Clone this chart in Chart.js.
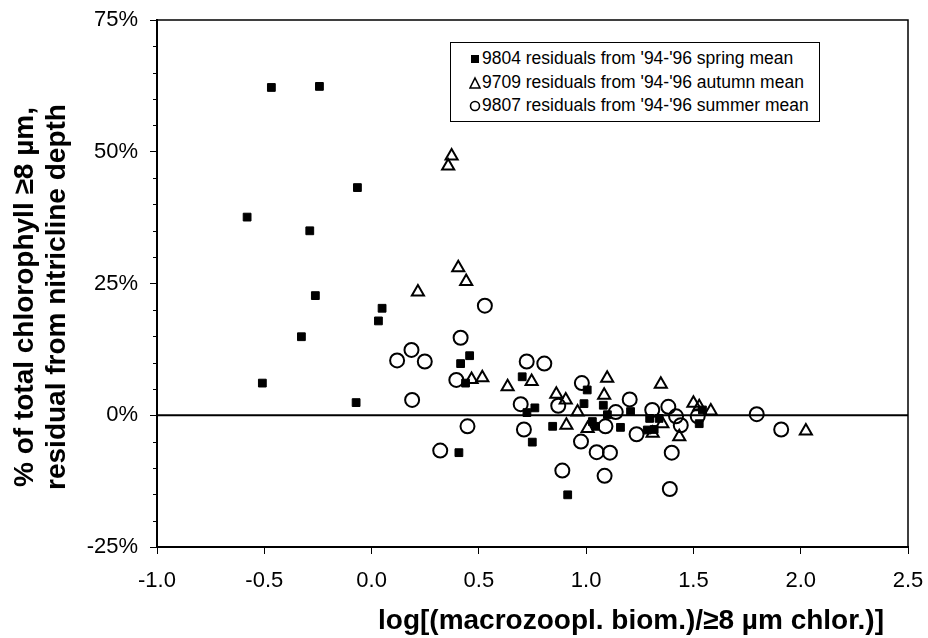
<!DOCTYPE html>
<html lang="en">
<head>
<meta charset="UTF-8">
<title>Residuals vs macrozooplankton biomass</title>
<script src="https://cdn.jsdelivr.net/npm/chart.js"></script>
<style>
    body {
        margin: 0;
        background: #ffffff;
        font-family: "Liberation Sans", Arial, sans-serif;
    }
    #wrap {
        position: relative;
        width: 928px;
        height: 638px;
    }
    #chart {
        position: absolute;
        left: 0;
        top: 0;
    }
    #legend {
        position: absolute;
        left: 450px;
        top: 42px;
        width: 370px;
        height: 80px;
        border: 1px solid #000;
        box-sizing: border-box;
        padding-top: 4px;
        font-size: 17.5px;
        color: #000;
        background: #fff;
    }
    .row {
        height: 23.5px;
        line-height: 23.5px;
        white-space: nowrap;
        padding-left: 18px;
    }
    .row svg {
        vertical-align: middle;
        margin-right: 1px;
    }
    #ytitle {
        position: absolute;
        left: 40px;
        top: 297px;
        width: 560px;
        transform: translate(-50%, -50%) rotate(-90deg);
        text-align: center;
        font-weight: bold;
        font-size: 28px;
        line-height: 32px;
        white-space: nowrap;
    }
    #xtitle {
        position: absolute;
        left: 631px;
        top: 620px;
        transform: translate(-50%, -50%);
        font-weight: bold;
        font-size: 28px;
        white-space: nowrap;
    }
</style>
</head>
<body>
<div id="wrap">
    <canvas id="chart" width="928" height="638"></canvas>
    <div id="ytitle">% of total chlorophyll ≥8 µm,<br>residual from nitricline depth</div>
    <div id="xtitle">log[(macrozoopl. biom.)/≥8 µm chlor.)]</div>
    <div id="legend">
        <div class="row"><svg width="12" height="14"><rect x="2" y="3" width="8" height="8" fill="#000"/></svg>9804 residuals from '94-'96 spring mean</div>
        <div class="row"><svg width="12" height="14"><polygon points="6,2 11,12 1,12" fill="none" stroke="#000" stroke-width="1.6"/></svg>9709 residuals from '94-'96 autumn mean</div>
        <div class="row"><svg width="12" height="14"><circle cx="6" cy="7" r="4.5" fill="none" stroke="#000" stroke-width="1.6"/></svg>9807 residuals from '94-'96 summer mean</div>
    </div>
</div>

<script>
    // 9804 residuals from '94-'96 spring mean (filled squares)
    const springX = [-0.467, -0.243, -0.066, -0.58, -0.288, -0.262, 0.049, 0.032, -0.327, -0.509,
        -0.072, 0.415, 0.457, 0.438, 0.407, 0.702, 0.761, 0.724, 0.749, 0.844,
        1.005, 0.99, 1.08, 1.029, 1.044, 1.099, 1.16, 1.207, 1.296, 1.285,
        1.317, 1.34, 1.527, 1.542, 0.914];
    const springY = [62.2, 62.4, 43.2, 37.6, 35.0, 22.7, 20.3, 17.9, 14.9, 6.1,
        2.4, 9.8, 11.3, 6.1, -7.1, 7.3, 1.4, 0.5, -5.1, -2.1,
        4.8, 2.2, 1.9, -1.2, -2.1, 0.1, -2.3, 0.7, -0.6, -2.8,
        -2.7, -0.6, -1.6, 1.0, -15.1];

    // 9709 residuals from '94-'96 autumn mean (open triangles)
    const autumnX = [0.373, 0.357, 0.404, 0.441, 0.216, 0.516, 0.466, 0.634, 0.746, 0.861,
        0.905, 0.96, 0.908, 1.007, 1.098, 1.084, 1.348, 1.31, 1.355, 1.434,
        1.5, 1.527, 1.581, 2.024];
    const autumnY = [49.2, 47.3, 28.0, 25.4, 23.4, 7.1, 6.8, 5.4, 6.4, 4.0,
        2.9, 0.6, -1.9, -2.5, 7.0, 3.8, 5.9, -3.4, -1.6, -4.1,
        2.3, 1.6, 0.8, -3.0];

    // 9807 residuals from '94-'96 summer mean (open circles)
    const summerX = [0.528, 0.415, 0.395, 0.447, 0.32, 0.186, 0.119, 0.248, 0.189, 0.723,
        0.805, 0.695, 0.71, 0.87, 0.98, 0.976, 0.889, 1.049, 1.111, 1.086,
        1.09, 1.138, 1.203, 1.235, 1.308, 1.383, 1.419, 1.441, 1.399, 1.39,
        1.52, 1.795, 1.909];
    const summerY = [20.8, 14.7, 6.7, -2.1, -6.7, 12.4, 10.4, 10.2, 2.9, 10.2,
        9.8, 2.1, -2.7, 1.8, 6.1, -5.0, -10.5, -7.0, -7.1, -11.5,
        -2.1, 0.6, 3.0, -3.6, 1.0, 1.6, -0.2, -1.9, -7.1, -14.0,
        -0.2, 0.2, -2.7];

    // axis ranges and ticks
    const xMin = -1, xMax = 2.5, xStep = 0.5;
    const yMin = -25, yMax = 75, yStep = 25, yMinorStep = 5;
    const zeroLine = [{x: xMin, y: 0}, {x: xMax, y: 0}];

    function pts(xs, ys) {
        return xs.map((x, i) => ({x: x, y: ys[i]}));
    }

    // frame on top/right + short minor ticks on the y axis
    const framePlugin = {
        id: 'frame',
        afterDraw(chart) {
            const {ctx, chartArea: a, scales} = chart;
            ctx.save();
            ctx.strokeStyle = '#000';
            ctx.lineWidth = 1.5;
            ctx.beginPath();
            ctx.moveTo(a.left, a.top);
            ctx.lineTo(a.right, a.top);
            ctx.lineTo(a.right, a.bottom);
            ctx.stroke();
            ctx.lineWidth = 1;
            ctx.beginPath();
            for (let v = yMin; v <= yMax; v += yMinorStep) {
                if (v % yStep === 0) continue;
                const py = Math.round(scales.y.getPixelForValue(v)) + 0.5;
                ctx.moveTo(a.left - 4, py);
                ctx.lineTo(a.left, py);
            }
            ctx.stroke();
            ctx.restore();
        }
    };

    const ctx = document.getElementById('chart').getContext('2d');
    const chart = new Chart(ctx, {
        type: 'scatter',
        data: {
            datasets: [
                {
                    label: 'zero',
                    type: 'line',
                    data: zeroLine,
                    borderColor: '#000',
                    borderWidth: 2,
                    pointRadius: 0,
                    order: 5
                },
                {
                    label: "9804 residuals from '94-'96 spring mean",
                    data: pts(springX, springY),
                    pointStyle: 'rect',
                    pointRadius: 5.5,
                    backgroundColor: '#000',
                    borderColor: '#000',
                    borderWidth: 1
                },
                {
                    label: "9709 residuals from '94-'96 autumn mean",
                    data: pts(autumnX, autumnY),
                    pointStyle: 'triangle',
                    pointRadius: 7,
                    backgroundColor: 'rgba(0,0,0,0)',
                    borderColor: '#000',
                    borderWidth: 2
                },
                {
                    label: "9807 residuals from '94-'96 summer mean",
                    data: pts(summerX, summerY),
                    pointStyle: 'circle',
                    pointRadius: 7,
                    backgroundColor: 'rgba(0,0,0,0)',
                    borderColor: '#000',
                    borderWidth: 2
                }
            ]
        },
        options: {
            responsive: false,
            animation: false,
            devicePixelRatio: 1,
            layout: { padding: { left: 0, top: 20, right: 20, bottom: 0 } },
            plugins: {
                legend: { display: false },
                tooltip: { enabled: false }
            },
            scales: {
                x: {
                    type: 'linear',
                    min: xMin,
                    max: xMax,
                    afterFit(scale) {
                        scale.height = 91;
                        scale.paddingLeft = 0;
                        scale.paddingRight = 0;
                    },
                    ticks: {
                        stepSize: xStep,
                        color: '#000',
                        padding: 14,
                        maxRotation: 0,
                        autoSkip: false,
                        font: { family: '"Liberation Sans", Arial', size: 22 },
                        callback: v => v.toFixed(1)
                    },
                    grid: {
                        drawOnChartArea: false,
                        tickLength: 7,
                        tickColor: '#000',
                        tickWidth: 1
                    },
                    border: { color: '#000', width: 2 }
                },
                y: {
                    min: yMin,
                    max: yMax,
                    afterFit(scale) {
                        scale.width = 157;
                        scale.paddingTop = 0;
                        scale.paddingBottom = 0;
                    },
                    ticks: {
                        stepSize: yStep,
                        color: '#000',
                        padding: 12,
                        font: { family: '"Liberation Sans", Arial', size: 22 },
                        callback: v => v + '%'
                    },
                    grid: {
                        drawOnChartArea: false,
                        tickLength: 7,
                        tickColor: '#000',
                        tickWidth: 1
                    },
                    border: { color: '#000', width: 2 }
                }
            }
        },
        plugins: [framePlugin]
    });
</script>
</body>
</html>
